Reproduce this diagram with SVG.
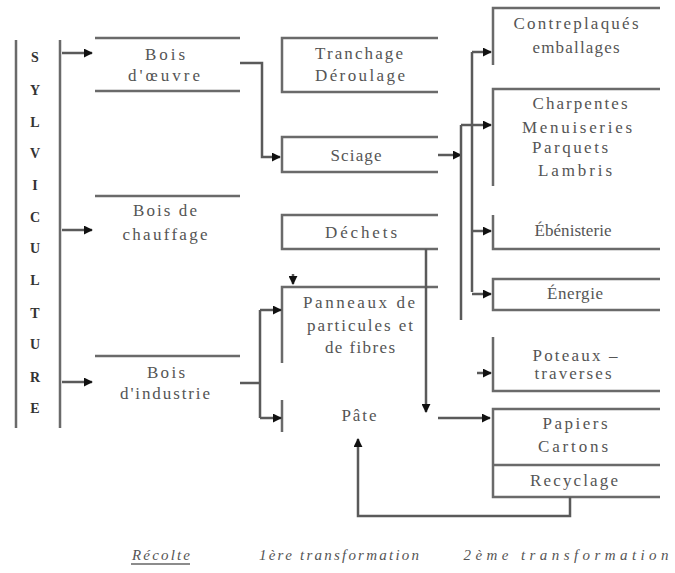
<svg xmlns="http://www.w3.org/2000/svg" width="675" height="573" viewBox="0 0 675 573">
<defs>
<marker id="ah" viewBox="0 0 10 10" refX="9" refY="5" markerWidth="9" markerHeight="9" markerUnits="userSpaceOnUse" orient="auto">
<path d="M0,0 L10,5 L0,10 z" fill="#111"/>
</marker>
<style>
.ln{stroke:#6a6a6a;stroke-width:2.5;fill:none}
.cn{stroke:#5a5a5a;stroke-width:2.5;fill:none}
.ar{marker-end:url(#ah)}
.t{font-family:"Liberation Serif","Times New Roman",serif;font-size:17px;fill:#555;text-anchor:middle}
.v{font-family:"Liberation Serif","Times New Roman",serif;font-size:14px;font-weight:bold;fill:#333;text-anchor:middle}
.b{font-family:"Liberation Serif","Times New Roman",serif;font-size:15px;font-style:italic;fill:#555;text-anchor:middle}
</style>
</defs>
<rect width="675" height="573" fill="#fff"/>

<g id="sylviculture">
<line class="ln" x1="16" y1="40" x2="16" y2="428" stroke-width="3"/>
<line class="ln" x1="60" y1="40" x2="60" y2="428" stroke-width="3"/>
<text class="v" x="35" y="62">S</text>
<text class="v" x="35" y="95">Y</text>
<text class="v" x="35" y="127">L</text>
<text class="v" x="35" y="158">V</text>
<text class="v" x="35" y="190">I</text>
<text class="v" x="35" y="222">C</text>
<text class="v" x="35" y="253">U</text>
<text class="v" x="35" y="285">L</text>
<text class="v" x="35" y="318">T</text>
<text class="v" x="35" y="349">U</text>
<text class="v" x="35" y="382">R</text>
<text class="v" x="35" y="413">E</text>
</g>

<g id="bois-oeuvre">
<line class="ln" x1="95" y1="38" x2="240" y2="38"/>
<line class="ln" x1="95" y1="91" x2="240" y2="91"/>
<text class="t" x="165" y="60" textLength="40" lengthAdjust="spacing">Bois</text>
<text class="t" x="164" y="81" textLength="72" lengthAdjust="spacing">d'œuvre</text>
</g>

<g id="bois-chauffage">
<line class="ln" x1="95" y1="196" x2="240" y2="196"/>
<text class="t" x="165" y="216" textLength="64" lengthAdjust="spacing">Bois de</text>
<text class="t" x="165" y="240" textLength="85" lengthAdjust="spacing">chauffage</text>
</g>

<g id="bois-industrie">
<line class="ln" x1="95" y1="356" x2="240" y2="356"/>
<text class="t" x="166" y="378" textLength="38" lengthAdjust="spacing">Bois</text>
<text class="t" x="165" y="399" textLength="90" lengthAdjust="spacing">d'industrie</text>
</g>

<g id="tranchage">
<path class="ln" d="M438,38 H282 V92 H438"/>
<text class="t" x="359" y="59" textLength="88" lengthAdjust="spacing">Tranchage</text>
<text class="t" x="360" y="81" textLength="90" lengthAdjust="spacing">Déroulage</text>
</g>

<g id="sciage">
<path class="ln" d="M438,137 H282 V172 H438"/>
<text class="t" x="356" y="161" textLength="51" lengthAdjust="spacing">Sciage</text>
</g>

<g id="dechets">
<path class="ln" d="M438,215 H282 V249 H438"/>
<text class="t" x="361" y="238" textLength="72" lengthAdjust="spacing">Déchets</text>
</g>

<g id="panneaux">
<path class="ln" d="M438,287 H282 V363"/>
<text class="t" x="359" y="308" textLength="112" lengthAdjust="spacing">Panneaux de</text>
<text class="t" x="360" y="331" textLength="106" lengthAdjust="spacing">particules et</text>
<text class="t" x="360" y="353" textLength="70" lengthAdjust="spacing">de fibres</text>
</g>

<g id="pate">
<line class="ln" x1="282" y1="400" x2="282" y2="432"/>
<text class="t" x="359" y="421" textLength="35" lengthAdjust="spacing">Pâte</text>
</g>

<g id="contreplaques">
<path class="ln" d="M660,8 H493 V65"/>
<text class="t" x="576" y="29" textLength="125" lengthAdjust="spacing">Contreplaqués</text>
<text class="t" x="576" y="53" textLength="87" lengthAdjust="spacing">emballages</text>
</g>

<g id="charpentes">
<path class="ln" d="M660,89 H493 V186"/>
<text class="t" x="580" y="109" textLength="95" lengthAdjust="spacing">Charpentes</text>
<text class="t" x="577" y="133" textLength="110" lengthAdjust="spacing">Menuiseries</text>
<text class="t" x="570" y="153" textLength="76" lengthAdjust="spacing">Parquets</text>
<text class="t" x="575" y="176" textLength="74" lengthAdjust="spacing">Lambris</text>
</g>

<g id="ebenisterie">
<path class="ln" d="M493,215 V249 H660"/>
<text class="t" x="573" y="236" textLength="77" lengthAdjust="spacing">Ébénisterie</text>
</g>

<g id="energie">
<path class="ln" d="M660,279 H493 V310 H660"/>
<text class="t" x="575" y="299" textLength="56" lengthAdjust="spacing">Énergie</text>
</g>

<g id="poteaux">
<path class="ln" d="M493,337 V391 H660"/>
<text class="t" x="575" y="361" textLength="85" lengthAdjust="spacing">Poteaux –</text>
<text class="t" x="573" y="379" textLength="77" lengthAdjust="spacing">traverses</text>
</g>

<g id="papiers">
<path class="ln" d="M660,409 H493 V497 H660 M493,465 H660"/>
<text class="t" x="575" y="429" textLength="65" lengthAdjust="spacing">Papiers</text>
<text class="t" x="573" y="452" textLength="70" lengthAdjust="spacing">Cartons</text>
<text class="t" x="574" y="486" textLength="88" lengthAdjust="spacing">Recyclage</text>
</g>

<g id="connectors">
<path class="cn ar" d="M62,53 H92"/>
<path class="cn ar" d="M62,230 H92"/>
<path class="cn ar" d="M62,382 H92"/>
<path class="cn ar" d="M240,63 H262 V157 H280"/>
<path class="cn" d="M240,383 H260 M260,310 V418"/>
<path class="cn ar" d="M260,310 H281"/>
<path class="cn ar" d="M260,418 H281"/>
<path class="cn ar" d="M293,274 V284"/>
<path class="cn ar" d="M426,249 V412"/>
<path class="cn ar" d="M438,418 H490"/>
<path class="cn ar" d="M438,155 H461"/>
<path class="cn" d="M461,125 V320"/>
<path class="cn ar" d="M461,125 H491"/>
<path class="cn" d="M472,52 V292"/>
<path class="cn ar" d="M472,52 H491"/>
<path class="cn ar" d="M472,231 H491"/>
<path class="cn ar" d="M472,294 H491"/>
<path class="cn ar" d="M477,373 H491"/>
<path class="cn ar" d="M570,497 V516 H358 V439"/>
</g>

<g id="labels">
<text class="b" x="161" y="560" textLength="58" lengthAdjust="spacing">Récolte</text>
<line x1="131" y1="564" x2="190" y2="564" stroke="#666" stroke-width="1.5"/>
<text class="b" x="339" y="560" textLength="160" lengthAdjust="spacing">1ère transformation</text>
<text class="b" x="566" y="560" textLength="205" lengthAdjust="spacing">2ème transformation</text>
</g>
</svg>
